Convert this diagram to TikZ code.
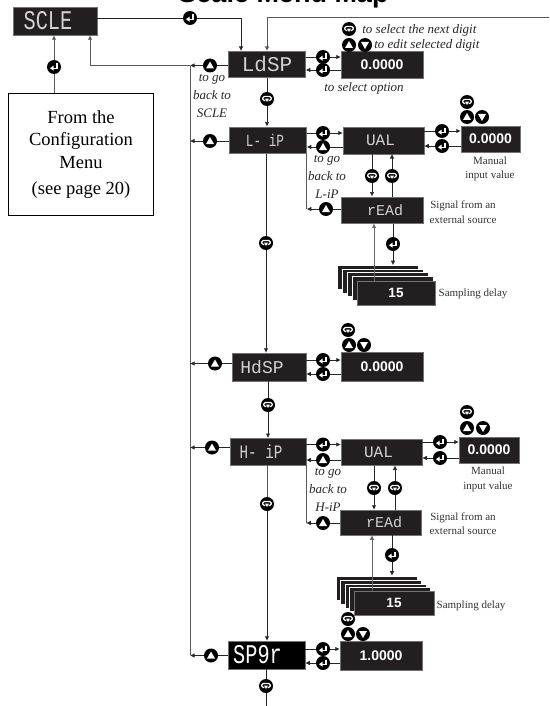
\documentclass[tikz,border=0pt]{standalone}
\usepackage{fontspec}
\setmainfont{Liberation Serif}
\setsansfont{Liberation Sans}
\newfontfamily\segfont{Liberation Mono}
\newfontfamily\segnarrow[FakeStretch=0.75]{Liberation Mono}
\usetikzlibrary{arrows.meta}
\definecolor{dispblack}{HTML}{231F20}
\newcommand{\seg}[2]{{\fontsize{#1}{#1}\segfont #2}}
\newcommand{\segn}[2]{{\fontsize{#1}{#1}\segnarrow #2}}
\begin{document}
\begin{tikzpicture}[x=1pt,y=-1pt,>={Latex[length=4.5pt,width=4.5pt]},
  line width=.7pt,draw=black!85,
  disp/.style={rectangle,fill=dispblack,draw=black!55,line width=.5pt,text=black!18,
    minimum width=77pt,minimum height=26.5pt,inner sep=0pt},
  valbox/.style={disp,text=white,minimum width=82pt,font=\sffamily\bfseries\fontsize{14}{14}\selectfont},
  stackbox/.style={rectangle,fill=dispblack,draw=white,line width=.6pt,minimum width=81pt,minimum height=24pt},
  btn/.style={circle,fill=black,minimum size=14pt,inner sep=0pt},
  btnenter/.style={btn,path picture={
    \draw[white,line width=1.3pt,shift={(path picture bounding box.center)}] (3,-3.5) -- (3,1.2) -- (-1,1.2);
    \fill[white,shift={(path picture bounding box.center)}] (-4,1.2) -- (-.5,-1.3) -- (-.5,3.7) -- cycle;}},
  btncycle/.style={btn,path picture={
    \draw[white,line width=1.2pt,rounded corners=1.5pt,shift={(path picture bounding box.center)}]
      (-1.6,1.5) -- (-4.2,1.5) -- (-4.2,-2.6) -- (4.2,-2.6) -- (4.2,1.5) -- (1.6,1.5);
    \fill[white,shift={(path picture bounding box.center)}] (-2,-.4) -- (2,-.4) -- (0,3) -- cycle;}},
  btnup/.style={btn,path picture={
    \fill[white,shift={(path picture bounding box.center)}] (-4,3) -- (4,3) -- (0,-4) -- cycle;}},
  btndown/.style={btn,path picture={
    \fill[white,shift={(path picture bounding box.center)}] (-4,-3) -- (4,-3) -- (0,4) -- cycle;}},
  busline/.style={line width=1pt,draw=black!65},
  hint/.style={font=\itshape\fontsize{13}{18}\selectfont,text=black!85,align=center,inner sep=0pt},
  note/.style={font=\fontsize{11}{14.5}\selectfont,text=black!80,align=center,inner sep=0pt}]
\useasboundingbox (0,0) rectangle (549,706);
\node[font=\sffamily\bfseries\fontsize{27}{27}\selectfont,anchor=base,inner sep=0pt] (title) at (283.5,3) {Scale Menu Map};

% displays
\node[disp,minimum width=84pt,minimum height=28pt] (scle) at (55,21) {\kern-14pt\segn{27}{SCLE}};
\node[rectangle,draw=black,line width=1.8pt,minimum width=145pt,minimum height=122pt,
  align=center,inner sep=0pt,font=\fontsize{18.5}{22.5}\selectfont] (from) at (81,154.5)
  {From the\\Configuration\\Menu\\[4pt](see page 20)};
\node[disp] (ldsp) at (267,64.5) {\seg{21}{LdSP}};
\node[valbox] (vldsp) at (382,65) {0.0000};
\node[disp] (lip) at (268,140) {\kern-6pt\segn{17}{L- iP}};
\node[disp,minimum width=81pt] (lval) at (383.5,140.5) {\kern-6pt\seg{16}{UAL}};
\node[valbox,minimum width=59pt] (vlip) at (490.5,139) {0.0000};
\node[disp,minimum width=82pt] (lrd) at (382,210) {\kern6pt\seg{15}{rEAd}};
\node[disp,minimum height=28pt,minimum width=74pt] (hdsp) at (269,367) {\kern-14pt\seg{18}{HdSP}};
\node[valbox,minimum height=29pt] (vhdsp) at (382,366.5) {0.0000};
\node[disp,minimum width=76pt] (hip) at (268,451.5) {\kern-14pt\segn{19}{H- iP}};
\node[disp,minimum width=81pt] (hval) at (381.5,452) {\kern-6pt\seg{16}{UAL}};
\node[valbox,minimum width=60pt] (vhip) at (489,450) {0.0000};
\node[disp,minimum width=81pt,minimum height=25pt] (hrd) at (381,522.5) {\kern6pt\seg{15}{rEAd}};
\node[disp,fill=black,minimum height=28pt,text=white] (spgr) at (266.5,655) {\kern-18pt\segn{27}{SP9r}};
\node[valbox,minimum height=29pt] (vspgr) at (381,655.5) {1.0000};

% delay stacks
\foreach \i/\x/\y in {0/377.5/277.5,1/382.5/281,2/387.5/284.5,3/392.5/288}
  \node[stackbox] (la\i) at (\x,\y) {};
\node[valbox,minimum width=78pt,minimum height=24pt,font=\sffamily\bfseries\fontsize{13.5}{14}\selectfont] (ldly) at (396,293) {15};
\foreach \i/\x/\y in {0/376.5/588,1/381/592,2/385.5/596,3/390/599.5}
  \node[stackbox] (ha\i) at (\x,\y) {};
\node[valbox,minimum width=80pt,minimum height=24pt,font=\sffamily\bfseries\fontsize{13.5}{14}\selectfont] (hdly) at (394,603) {15};

% buttons on the connectors
\node[btnenter] (ea) at (190,18) {};
\node[btnenter] (eb) at (54,67) {};
\node[btnup] (ub) at (210,65.5) {};
\node[btncycle] (ca) at (267,99) {};
\node[btnenter] (ec) at (323,57) {};
\node[btnenter] (ed) at (323,70) {};
\node[btnup] (ud) at (210,141) {};
\node[btnenter] (ee) at (323,133) {};
\node[btnup] (ue) at (323,147) {};
\node[btnenter] (ef) at (442,131) {};
\node[btnenter] (eg) at (442,146) {};
\node[btncycle] (cb) at (372,176) {};
\node[btncycle] (cc) at (392,176) {};
\node[btnup] (uf) at (326,209) {};
\node[btnenter] (eh) at (393,244) {};
\node[btncycle] (cd) at (266,243) {};
\node[btnup] (ug) at (215,363.5) {};
\node[btnenter] (ei) at (323,360) {};
\node[btnenter] (ej) at (323,374) {};
\node[btncycle] (ce) at (268,405) {};
\node[btnup] (uh) at (212,447.5) {};
\node[btnenter] (ek) at (323,444.5) {};
\node[btnup] (ui) at (323,460) {};
\node[btnenter] (el) at (440,442) {};
\node[btnenter] (em) at (440,458) {};
\node[btncycle] (cf) at (374,488) {};
\node[btncycle] (cg) at (395,488) {};
\node[btnup] (uj) at (323,523) {};
\node[btnenter] (en) at (392,555) {};
\node[btncycle] (ch) at (267,504) {};
\node[btnup] (uk) at (211,655.5) {};
\node[btnenter] (eo) at (323,649) {};
\node[btnenter] (ep) at (323,663) {};
\node[btncycle] (ci) at (266,686) {};

% buttons beside the values
\node[btncycle] (ka) at (349,29) {};
\node[btnup] (kb) at (349,45) {};
\node[btndown] (kc) at (365,45) {};
\node[btncycle] (kd) at (467,102) {};
\node[btnup] (ke) at (467,117) {};
\node[btndown] (kf) at (482,117) {};
\node[btncycle] (kg) at (348,330) {};
\node[btnup] (kh) at (349,345) {};
\node[btndown] (ki) at (364,345) {};
\node[btncycle] (kj) at (467,412) {};
\node[btnup] (kk) at (467,428) {};
\node[btndown] (kl) at (483,428) {};
\node[btncycle] (km) at (348,619) {};
\node[btnup] (kn) at (348,634) {};
\node[btndown] (ko) at (363,634) {};

% texts
\node[hint,anchor=west] (ta) at (362,30) {to select the next digit};
\node[hint,anchor=west] (tb) at (374,45) {to edit selected digit};
\node[hint] (tc) at (364,88) {to select option};
\node[hint] (td) at (212,96) {to go\\back to\\SCLE};
\node[hint] (te) at (327,176.5) {to go\\back to\\L-iP};
\node[hint] (tf) at (328,489.5) {to go\\back to\\H-iP};
\node[note] (na) at (490,169) {Manual\\input value};
\node[note] (nb) at (463,212) {Signal from an\\external source};
\node[note] (nc) at (473,294) {Sampling delay};
\node[note] (nd) at (488,479.5) {Manual\\input value};
\node[note] (ne) at (463,523.5) {Signal from an\\external source};
\node[note] (nf) at (471,606) {Sampling delay};

% connectors
\coordinate (bus) at (190,66);
\coordinate (busend) at (190,655);
\coordinate (topend) at (549,18);
\coordinate (botend) at (266,706);
\draw[busline] (bus) -- (busend);
\draw[busline,->] (bus) -| ([xshift=35pt]scle.south);
\draw[busline,->] (topend) -| (ldsp.north);
\draw ([yshift=3pt]scle.east) -- (ea);
\draw[->] (ea) -| ([xshift=-26pt]ldsp.north);
\draw[busline] (from.north -| eb) -- (eb);
\draw[busline,->] (eb) -- (eb |- scle.south);
\draw (ldsp.west |- ub) -- (ub);
\draw[->] (ub) -- (ub -| bus);
\draw (ca |- ldsp.south) -- (ca);
\draw[->] (ca) -- (ca |- lip.north);
\draw (ldsp.east |- ec) -- (ec);
\draw[->] (ec) -- (ec -| vldsp.west);
\draw (vldsp.west |- ed) -- (ed);
\draw[->] (ed) -- (ed -| ldsp.east);
\draw (lip.west |- ud) -- (ud);
\draw[->] (ud) -- (ud -| bus);
\draw (lip.east |- ee) -- (ee);
\draw[->] (ee) -- (ee -| lval.west);
\draw (lval.west |- ue) -- (ue);
\draw[->] (ue) -- (ue -| lip.east);
\draw (lval.east |- ef) -- (ef);
\draw[->] (ef) -- (ef -| vlip.west);
\draw (vlip.west |- eg) -- (eg);
\draw[->] (eg) -- (eg -| lval.east);
\draw (cb |- lval.south) -- (cb);
\draw[->] (cb) -- (cb |- lrd.north);
\draw (cc |- lrd.north) -- (cc);
\draw[->] (cc) -- (cc |- lval.south);
\draw (lrd.west |- uf) -- (uf);
\draw[->] (uf) -- (lip.south east |- uf);
\draw[busline] (lip.south east) -- (lip.south east |- uf);
\draw (eh |- lrd.south) -- (eh);
\draw[->] (eh) -- (eh |- la0.north);
\draw[->,draw=black!60] ([xshift=-22pt]ldly.north) -- ([xshift=-8pt]lrd.south);
\draw (cd |- lip.south) -- (cd);
\draw[->] (cd) -- (cd |- hdsp.north);
\draw (hdsp.west |- ug) -- (ug);
\draw[->] (ug) -- (ug -| bus);
\draw (hdsp.east |- ei) -- (ei);
\draw[->] (ei) -- (ei -| vhdsp.west);
\draw (vhdsp.west |- ej) -- (ej);
\draw[->] (ej) -- (ej -| hdsp.east);
\draw (ce |- hdsp.south) -- (ce);
\draw[->] (ce) -- (ce |- hip.north);
\draw (hip.west |- uh) -- (uh);
\draw[->] (uh) -- (uh -| bus);
\draw (hip.east |- ek) -- (ek);
\draw[->] (ek) -- (ek -| hval.west);
\draw (hval.west |- ui) -- (ui);
\draw[->] (ui) -- (ui -| hip.east);
\draw (hval.east |- el) -- (el);
\draw[->] (el) -- (el -| vhip.west);
\draw (vhip.west |- em) -- (em);
\draw[->] (em) -- (em -| hval.east);
\draw (cf |- hval.south) -- (cf);
\draw[->] (cf) -- (cf |- hrd.north);
\draw (cg |- hrd.north) -- (cg);
\draw[->] (cg) -- (cg |- hval.south);
\draw (hrd.west |- uj) -- (uj);
\draw[->] (uj) -- (hip.south east |- uj);
\draw[busline] (hip.south east) -- (hip.south east |- uj);
\draw (en |- hrd.south) -- (en);
\draw[->] (en) -- (en |- ha0.north);
\draw[->,draw=black!60] ([xshift=-22pt]hdly.north) -- ([xshift=-9pt]hrd.south);
\draw[busline] (ch |- hip.south) -- (ch);
\draw[->] (ch) -- (ch |- spgr.north);
\draw (spgr.west |- uk) -- (uk);
\draw[->] (uk) -- (uk -| busend);
\draw (spgr.east |- eo) -- (eo);
\draw[->] (eo) -- (eo -| vspgr.west);
\draw (vspgr.west |- ep) -- (ep);
\draw[->] (ep) -- (ep -| spgr.east);
\draw (ci |- spgr.south) -- (ci);
\draw (ci) -- (botend);
\end{tikzpicture}
\end{document}
